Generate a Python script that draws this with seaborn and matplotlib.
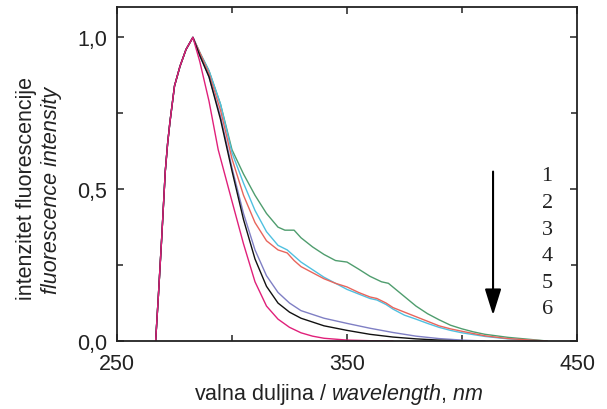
import numpy as np
import pandas as pd
import matplotlib
matplotlib.use("Agg")
import matplotlib.pyplot as plt
import seaborn as sns
from matplotlib.ticker import FixedLocator

sns.set_theme(style="ticks")
plt.rcParams['font.family'] = ['Liberation Sans', 'DejaVu Sans']
plt.rcParams['mathtext.fontset'] = 'custom'
plt.rcParams['mathtext.rm'] = 'Liberation Sans'
plt.rcParams['mathtext.it'] = 'Liberation Sans:italic'

# ---- data ----
rise_wl = [266.8, 268, 269.4, 271, 272, 273, 275, 277.4, 280, 283]
rise_i = [0.0, 0.15, 0.335, 0.56, 0.65, 0.72, 0.84, 0.905, 0.96, 1.0]

green_wl = [286, 290, 295, 300, 305, 310, 315, 320, 323, 327, 330, 335, 340, 345, 350,
            355, 360, 365, 368, 372, 376, 380, 385, 390, 395, 400, 405, 410, 420, 430, 437]
green_i = [0.95, 0.89, 0.78, 0.63, 0.55, 0.48, 0.42, 0.375, 0.365, 0.365, 0.34, 0.31, 0.285, 0.265, 0.26,
           0.237, 0.213, 0.195, 0.19, 0.165, 0.14, 0.115, 0.09, 0.07, 0.052, 0.04, 0.03, 0.022, 0.012, 0.005, 0.0]

cyan_wl = [286, 290, 295, 300, 305, 310, 315, 320, 324, 327, 330, 335, 340, 345, 350,
           355, 360, 363, 367, 370, 375, 380, 385, 390, 395, 400, 410, 420, 430, 437]
cyan_i = [0.95, 0.89, 0.78, 0.62, 0.52, 0.43, 0.36, 0.315, 0.30, 0.28, 0.26, 0.235, 0.21, 0.19, 0.17,
          0.155, 0.14, 0.135, 0.12, 0.105, 0.085, 0.072, 0.058, 0.045, 0.035, 0.027, 0.015, 0.007, 0.002, 0.0]

red_wl = cyan_wl
red_i = [0.95, 0.88, 0.76, 0.60, 0.48, 0.39, 0.33, 0.30, 0.29, 0.265, 0.245, 0.225, 0.205, 0.19, 0.178,
         0.16, 0.145, 0.14, 0.125, 0.11, 0.095, 0.08, 0.065, 0.05, 0.04, 0.032, 0.017, 0.008, 0.003, 0.0]

purple_wl = [286, 290, 295, 300, 305, 310, 315, 320, 325, 330, 340, 350, 360, 370, 380, 390, 400, 410]
purple_i = [0.94, 0.87, 0.74, 0.57, 0.42, 0.30, 0.215, 0.16, 0.125, 0.10, 0.075, 0.058, 0.042, 0.028,
            0.016, 0.008, 0.003, 0.0]

black_wl = [286, 290, 295, 300, 305, 310, 315, 320, 325, 330, 340, 350, 360, 370, 380, 390, 400]
black_i = [0.94, 0.87, 0.73, 0.56, 0.40, 0.27, 0.18, 0.125, 0.095, 0.075, 0.05, 0.035, 0.022, 0.013,
           0.007, 0.003, 0.0]

magenta_wl = [286, 290, 294, 300, 305, 310, 315, 320, 325, 330, 335, 340, 350, 360, 370]
magenta_i = [0.92, 0.79, 0.63, 0.46, 0.32, 0.195, 0.115, 0.072, 0.045, 0.027, 0.016, 0.009, 0.003, 0.001, 0.0]

series_names = ["1", "2", "3", "4", "5", "6"]
series_wl = [green_wl, cyan_wl, red_wl, purple_wl, black_wl, magenta_wl]
series_i = [green_i, cyan_i, red_i, purple_i, black_i, magenta_i]
colors = ["#4f9d6e", "#4fc0e0", "#e8655c", "#7f7fc4", "#111111", "#e0207a"]

frames = []
for name, wl, iv in zip(series_names, series_wl, series_i):
    frames.append(pd.DataFrame({"wl": rise_wl + wl, "I": rise_i + iv, "s": name}))
df = pd.concat(frames, ignore_index=True)

fig = plt.figure(figsize=(6.07, 4.10), dpi=100)
ax = fig.add_axes([117/607, 1-342/410, (577-117)/607, (342-8)/410])

sns.lineplot(data=df, x="wl", y="I", hue="s", palette=dict(zip(series_names, colors)),
             estimator=None, sort=False, legend=False, linewidth=1.0, ax=ax)

ax.set_xlim(250, 450)
ax.set_ylim(0, 1.1)
ax.xaxis.set_major_locator(FixedLocator([250, 350, 450]))
ax.xaxis.set_minor_locator(FixedLocator([300, 400]))
ax.yaxis.set_major_locator(FixedLocator([0.0, 0.5, 1.0]))
ax.yaxis.set_minor_locator(FixedLocator([0.25, 0.75]))
ax.set_yticklabels(["0,0", "0,5", "1,0"])
ax.set_xticklabels(["250", "350", "450"])
ax.tick_params(which='both', direction='in', top=True, right=True, width=1.1, color='#222222',
               labelsize=15.5, labelcolor='#222222')
ax.tick_params(axis='x', which='major', length=5, pad=9)
ax.tick_params(axis='y', which='major', length=5, pad=7)
ax.tick_params(which='minor', length=4)
for sp in ax.spines.values():
    sp.set_linewidth(1.3)
    sp.set_color('#222222')

ax.set_xlabel("")
ax.set_ylabel("")
fig.text(339/607, 1-400/410, r"valna duljina / $\it{wavelength}$, $\it{nm}$", ha='center', va='baseline',
         fontsize=15.5, color='#222222')
fig.text(27/607, 1-188/410, "intenzitet fluorescencije", rotation=90, ha='center', va='center',
         fontsize=15.5, color='#222222')
fig.text(51/607, 1-190/410, "fluorescence intensity", rotation=90, ha='center', va='center',
         fontsize=15.5, color='#222222', style='italic')

# arrow
ax.annotate("", xy=(413.5, 0.085), xytext=(413.5, 0.558),
            arrowprops=dict(arrowstyle='-|>,head_length=0.8,head_width=0.25', lw=1.5,
                            color='black', mutation_scale=20, shrinkA=0, shrinkB=0))
# labels 1..6
for k, name in enumerate(series_names):
    ax.text(437, 0.544 - k*0.0877, name, ha='center', va='center', fontsize=16,
            family='Liberation Serif', color='#222222')

fig.savefig("out.png", dpi=100)
